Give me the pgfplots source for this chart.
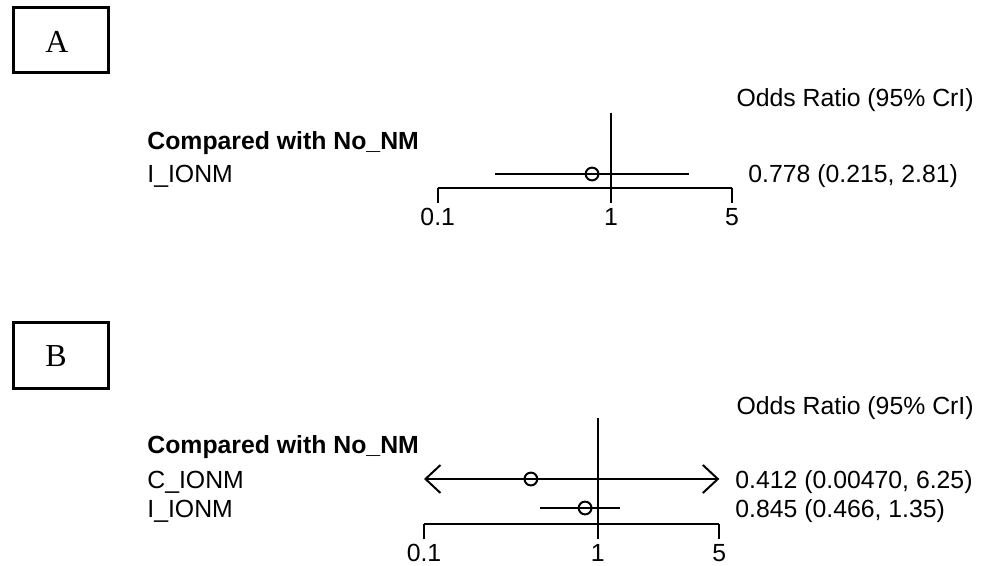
\documentclass[border=0pt]{standalone}
\usepackage{fontspec}
\setmainfont{Liberation Sans}
\newfontfamily\serifL{Liberation Serif}
\usepackage{pgfplots}
\pgfplotsset{compat=1.18}
\usetikzlibrary{arrows.meta}
\pgfplotsset{
  forestaxis/.style={
    xmin=0.1, xmax=5, ymin=0,
    scale only axis, clip=false,
    axis y line=none, axis x line*=bottom,
    xtick={0.1,1,5}, xticklabels={0.1,1,5}, xminorticks=false,
    xtick align=outside, major tick length=7.5pt,
    axis line style={line width=1pt, black},
    every tick/.style={line width=1pt, black},
    /pgf/number format/assume math mode=true,
    xticklabel style={font=\fontsize{12.4}{14}\selectfont, yshift=1.5pt},
  },
  ORci/.style={black, line width=1pt, no markers},
  ORpt/.style={black, only marks, mark=o, mark size=3.2pt, line width=1pt, mark options={fill=white}},
}
\begin{document}
\fontsize{12.4}{14}\selectfont
\begin{tikzpicture}
\useasboundingbox (0,0) rectangle (494pt,-283pt);
% ---------- Panel A ----------
\draw[line width=1.5pt] (0.5*13pt,-0.5*8pt) rectangle (0.5*108pt,-0.5*73pt);
\node[inner sep=0pt, font=\serifL\fontsize{16}{18}\selectfont] at (0.5*57pt,-0.5*42pt) {A};
\begin{axis}[xmode=log, forestaxis, at={(0.5*437.7pt,-0.5*188pt)}, anchor=south west,
  width=147.2pt, height=37.5pt, ymax=75]
  \addplot[ORci] coordinates {(1,-10) (1,75)};
  \addplot[ORci] coordinates {(0.215,14) (2.81,14)};
  \addplot[ORpt] coordinates {(0.778,14)};
\end{axis}
\node[inner sep=0pt, anchor=base east] at (0.5*974pt,-0.5*107pt) {Odds Ratio (95\% CrI)};
\node[inner sep=0pt, anchor=base west, font=\bfseries\fontsize{12.4}{14}\selectfont] at (0.5*147pt,-0.5*150pt) {Compared with No\_NM};
\node[inner sep=0pt, anchor=base west] at (0.5*147pt,-0.5*183pt) {I\_IONM};
\node[inner sep=0pt, anchor=base west] at (0.5*748pt,-0.5*183pt) {0.778 (0.215, 2.81)};
% ---------- Panel B ----------
\draw[line width=1.5pt] (0.5*13pt,-0.5*322pt) rectangle (0.5*108pt,-0.5*388pt);
\node[inner sep=0pt, font=\serifL\fontsize{16}{18}\selectfont] at (0.5*56pt,-0.5*356pt) {B};
\begin{axis}[xmode=log, forestaxis, at={(0.5*424pt,-0.5*524pt)}, anchor=south west,
  width=147.65pt, height=53pt, ymax=106]
  \addplot[ORci] coordinates {(1,-11) (1,106)};
  \addplot[ORci, {Straight Barb[length=7.5pt, width=14pt, line width=1pt]}-{Straight Barb[length=7.5pt, width=14pt, line width=1pt]}] coordinates {(0.1,45) (5,45)};
  \addplot[ORci] coordinates {(0.466,16) (1.35,16)};
  \addplot[ORpt] coordinates {(0.412,45)};
  \addplot[ORpt] coordinates {(0.845,16)};
\end{axis}
\node[inner sep=0pt, anchor=base east] at (0.5*974pt,-0.5*414pt) {Odds Ratio (95\% CrI)};
\node[inner sep=0pt, anchor=base west, font=\bfseries\fontsize{12.4}{14}\selectfont] at (0.5*147pt,-0.5*453pt) {Compared with No\_NM};
\node[inner sep=0pt, anchor=base west] at (0.5*147pt,-0.5*488pt) {C\_IONM};
\node[inner sep=0pt, anchor=base west] at (0.5*147pt,-0.5*517pt) {I\_IONM};
\node[inner sep=0pt, anchor=base west] at (0.5*735pt,-0.5*488pt) {0.412 (0.00470, 6.25)};
\node[inner sep=0pt, anchor=base west] at (0.5*735pt,-0.5*517pt) {0.845 (0.466, 1.35)};
\end{tikzpicture}
\end{document}
